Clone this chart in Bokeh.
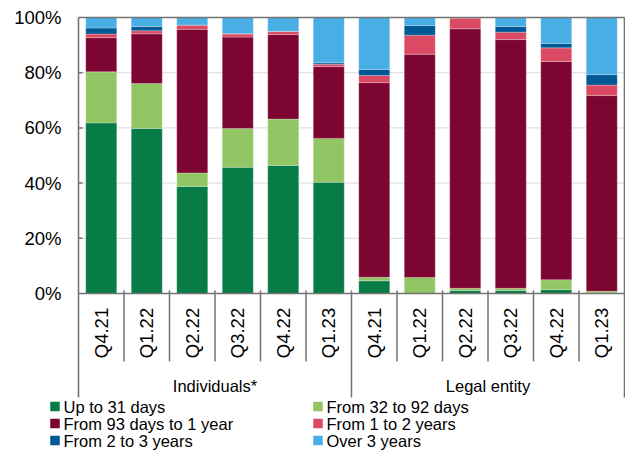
import math
from bokeh.plotting import figure
from bokeh.models import ColumnDataSource, Range1d
from bokeh.core.properties import value
from bokeh.embed import file_html
from bokeh.resources import INLINE

# ---- data ----
quarters = ["Q4.21", "Q1.22", "Q2.22", "Q3.22", "Q4.22", "Q1.23",
            "Q4.21", "Q1.22", "Q2.22", "Q3.22", "Q4.22", "Q1.23"]
groups = ["Individuals*", "Legal entity"]
series_names = ["Up to 31 days", "From 32 to 92 days", "From 93 days to 1 year",
                "From 1 to 2 years", "From 2 to 3 years", "Over 3 years"]
up_to_31 = [61.8, 59.8, 38.8, 45.7, 46.4, 40.3, 4.6, 0.0, 1.1, 1.1, 1.4, 0.2]
d32_92 = [18.5, 16.3, 4.9, 14.1, 16.8, 15.9, 1.3, 5.8, 0.8, 0.8, 3.6, 0.6]
d93_1y = [12.4, 18.0, 52.0, 33.1, 30.6, 26.0, 70.5, 80.9, 94.0, 90.1, 79.1, 70.9]
y1_2 = [1.3, 1.1, 1.5, 1.1, 1.1, 0.9, 2.6, 6.9, 3.9, 2.7, 4.9, 3.8]
y2_3 = [2.2, 1.5, 0.1, 0.2, 0.1, 0.5, 2.2, 3.5, 0.0, 2.0, 1.6, 3.8]
over3 = [3.8, 3.3, 2.7, 5.8, 5.0, 16.4, 18.8, 2.9, 0.2, 3.3, 9.4, 20.7]
y_ticks = [0, 20, 40, 60, 80, 100]

colors = ["#077c47", "#92c664", "#7c0532", "#db4a62", "#005894", "#48aee3"]
FONT = value("Liberation Sans")

# ---- layout (screen px -> data) ----
W, H = 625, 450
n = len(quarters)
per_group = n // len(groups)
LEFT, RIGHT, TOP, BASE = 78, 624, 17, 293
PX_X = (RIGHT - LEFT) / n
PX_Y = (BASE - TOP) / 100
def X(px): return (px - LEFT) / PX_X
def Y(py): return (BASE - py) / PX_Y

xs = [i + 0.5 for i in range(n)]
keys = ["s0", "s1", "s2", "s3", "s4", "s5"]
data = dict(x=xs)
for k, s in zip(keys, [up_to_31, d32_92, d93_1y, y1_2, y2_3, over3]):
    data[k] = s
src = ColumnDataSource(data)

p = figure(width=W, height=H, output_backend="svg", toolbar_location=None,
           x_range=Range1d(X(0), X(W)), y_range=Range1d(Y(H), Y(0)),
           min_border=0, min_border_left=0, min_border_right=0,
           min_border_top=0, min_border_bottom=0)
p.axis.visible = False
p.xgrid.visible = False
p.ygrid.visible = False
p.outline_line_color = None
p.background_fill_color = "white"
p.border_fill_color = "white"

AX = "#737373"
# gridlines
gl = y_ticks[1:-1]
p.segment(x0=[0] * len(gl), x1=[n] * len(gl), y0=gl, y1=gl,
          line_color="#d9d9d9", line_width=1)

# bars
p.vbar_stack(keys, x="x", width=31 / PX_X, source=src, color=colors,
             line_color="white", line_alpha=0.3, line_width=0.8)

# frame lines
sep_bottom = Y(361)
grp_bottom = Y(397)
p.segment(x0=[0, 0, 0, n], x1=[n, n, 0, n], y0=[100, 0, 100, 100],
          y1=[100, 0, grp_bottom, grp_bottom], line_color=AX, line_width=1.6)
# y inward ticks
p.segment(x0=[0] * len(gl), x1=[X(LEFT + 4)] * len(gl), y0=gl, y1=gl,
          line_color=AX, line_width=1.5)
# category separators
cat_seps = [i for i in range(1, n) if i % per_group != 0]
p.segment(x0=cat_seps, x1=cat_seps, y0=[Y(BASE - 3)] * len(cat_seps),
          y1=[sep_bottom] * len(cat_seps), line_color=AX, line_width=1.5)
grp_seps = [i for i in range(per_group, n, per_group)]
p.segment(x0=grp_seps, x1=grp_seps, y0=[Y(BASE - 3)] * len(grp_seps),
          y1=[grp_bottom] * len(grp_seps), line_color=AX, line_width=1.5)

# y tick labels
p.text(x=[X(61)] * len(y_ticks), y=y_ticks, text=[f"{t}%" for t in y_ticks],
       text_font=FONT, text_font_size="18.5px", text_align="right",
       text_baseline="middle", text_color="black")

# category labels
p.text(x=xs, y=[Y(332.5)] * n, text=quarters, angle=math.pi / 2,
       text_font=FONT, text_font_size="18.5px", text_align="center",
       text_baseline="middle", text_color="black")

# group labels
gx = [per_group * (g + 0.5) for g in range(len(groups))]
p.text(x=gx, y=[Y(385)] * len(groups), text=groups,
       text_font=FONT, text_font_size="16.5px", text_align="center",
       text_baseline="middle", text_color="black")

# legend
col_px = [54.5, 317.5]
row_px = [406, 423, 440]
lx, ly, tx = [], [], []
for i in range(len(series_names)):
    r, c = divmod(i, 2)
    lx.append(X(col_px[c]))
    ly.append(Y(row_px[r]))
    tx.append(X(col_px[c] + 8.5))
p.scatter(x=lx, y=ly, marker="square", size=9.5, color=colors, line_color=None)
p.text(x=tx, y=ly, text=series_names, text_font=FONT, text_font_size="16.5px",
       text_align="left", text_baseline="middle", text_color="black")

open("out.html", "w").write(file_html(p, INLINE))
